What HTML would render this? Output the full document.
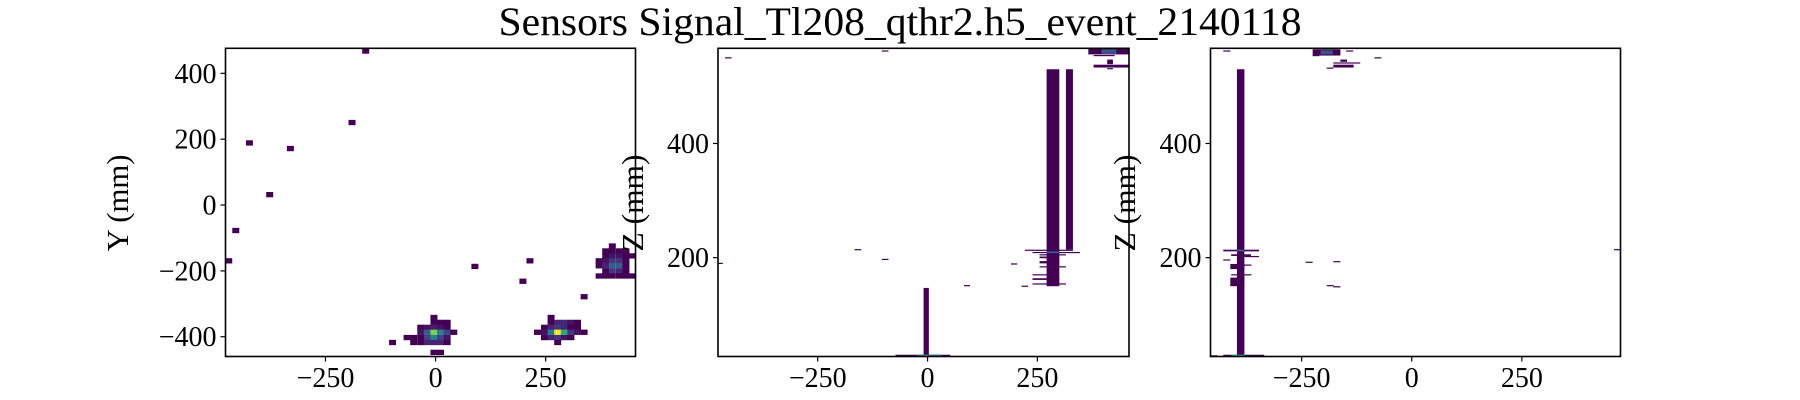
<!DOCTYPE html>
<html><head><meta charset="utf-8"><style>
html,body{margin:0;padding:0;background:#fff;}
svg{display:block;font-family:"Liberation Serif","DejaVu Serif",serif;}
</style></head><body>
<svg id="fig" width="1800" height="400" viewBox="0 0 1800 400" xmlns="http://www.w3.org/2000/svg">
<rect x="0" y="0" width="1800" height="400" fill="#fff"/>
<text x="900" y="35" font-size="40" text-anchor="middle" textLength="803" lengthAdjust="spacingAndGlyphs">Sensors Signal_Tl208_qthr2.h5_event_2140118</text>
</svg>
<script>
// Panel 1: X-Y histogram cells [x, y, value]
const p1Xticks = [-250, 0, 250];
const p1Yticks = [-400, -200, 0, 200, 400];
const p1Cells = [
 [-159,468,0],[-190,251,0],[-423,189,0],[-330,172,0],[-377,32,0],[-454,-77,0],[-470,-169,0],
 [89,-186,0],[214,-169,0],[198,-231,0],[337,-278,0],[-98,-417,0],
 // cluster A
 [-4,-341,0],
 [-4,-356,0],[11,-356,0],[26,-356,0],
 [-34,-371,0],[-19,-371,0.05],[-4,-371,0.08],[11,-371,0.05],[26,-371,0],
 [-34,-386,0.05],[-19,-386,0.3],[-4,-386,0.8],[11,-386,0.45],[26,-386,0.2],[41,-386,0],
 [-65,-402,0],[-50,-402,0],[-34,-402,0],[-19,-402,0.2],[-4,-402,0.45],[11,-402,0.2],[26,-402,0.05],
 [-50,-417,0],[-34,-417,0],[-19,-417,0.1],[-4,-417,0.1],[11,-417,0.1],[26,-417,0],
 [-4,-447,0],[11,-447,0],
 // cluster B
 [262,-341,0],
 [262,-356,0],[277,-356,0.1],[292,-356,0.1],[307,-356,0.05],[322,-356,0],
 [247,-371,0],[262,-371,0.1],[277,-371,0.15],[292,-371,0.1],[307,-371,0],[322,-371,0],
 [231,-386,0],[247,-386,0.05],[262,-386,0.4],[277,-386,1.0],[292,-386,0.6],[307,-386,0.15],[322,-386,0.05],[337,-386,0],
 [247,-402,0],[262,-402,0.1],[277,-402,0.15],[292,-402,0.05],[307,-402,0],
 [277,-417,0],
 // cluster C
 [401,-124,0],
 [386,-139,0],[401,-139,0],[417,-139,0],[432,-139,0],
 [386,-154,0],[401,-154,0.05],[417,-154,0.05],[432,-154,0],[447,-154,0],
 [371,-169,0],[386,-169,0.05],[401,-169,0.15],[417,-169,0.15],[432,-169,0],
 [371,-184,0],[386,-184,0.1],[401,-184,0.3],[417,-184,0.3],[432,-184,0],
 [386,-200,0],[401,-200,0.15],[417,-200,0.1],[432,-200,0],
 [371,-215,0],[386,-215,0],[401,-215,0],[417,-215,0],[432,-215,0],[447,-215,0]
];
// Panel 2: X-Z rects [x0, x1, z0, z1, value]
const p2Xticks = [-250, 0, 250];
const p2Zticks = [200, 400];
const p2Rects = [
 [-9,3,27,147,0],[-73,52,27,30,0],[-25,-8,27,30,0.4],[-8,3,27,30,0.65],[3,33,27,30,0.35],
 [271,300,150,530,0],[315,331,214,530,0],
 [222,331,212,214,0],[239,347,208,210,0],[271,300,208,211,0.3],[255,315,204,206,0],
 [255,300,199,202,0],[255,300,190,194,0],[255,315,183,185,0],[190,204,188,190,0],
 [239,280,169,171,0],[239,300,161,164,0],[239,315,153,155,0],[214,229,149,151,0],
 [83,97,150,152,0],[-166,-151,213,215,0],[-104,-89,196,198,0],[-104,-89,561,563,0],
 [-461,-446,549,551,0],[-477,-466,189,191,0],
 [366,458,556,566,0],[396,430,557,565,0.25],[378,426,553,555,0],[409,422,539,547,0],
 [378,458,533,538,0],[409,422,530,532,0]
];
// Panel 3: Y-Z rects [y0, y1, z0, z1, value]
const p3Xticks = [-250, 0, 250];
const p3Zticks = [200, 400];
const p3Rects = [
 [-397,-380,27,530,0],[-428,-335,27,30,0],[-410,-380,27,30,0.6],[-456,-441,27,29,0],
 [-428,-347,211,214,0],[-397,-380,211,214,0.35],[-410,-365,203,206,0],[-380,-347,201,203,0],
 [-428,-412,195,197,0],[-412,-380,180,189,0],[-380,-364,186,188,0],[-410,-364,169,171,0],
 [-412,-380,150,165,0],[-241,-225,191,193,0],[-178,-162,192,194,0],[-193,-177,150,152,0],
 [-178,-162,148,150,0],[459,476,213,215,0],
 [-428,-412,561,563,0],[-225,-162,554,565,0],[-207,-179,556,563,0.25],[-149,-133,561,563,0],
 [-225,-210,553,555,0],[-85,-69,549,551,0],[-162,-147,543,547,0],[-178,-117,540,542,0],
 [-178,-132,533,538,0],[-193,-178,531,533,0]
];

const NS = "http://www.w3.org/2000/svg";
const svg = document.getElementById('fig');
const TOP = 48.3, BOT = 356.5;
function viridis(t){
  const s=[[68,1,84],[72,40,120],[62,74,137],[49,104,142],[38,130,142],[31,158,137],[53,183,121],[110,206,88],[181,222,43],[253,231,37]];
  t=Math.max(0,Math.min(1,t))*(s.length-1);const i=Math.min(Math.floor(t),s.length-2),f=t-i;
  const c=s[i].map((v,k)=>Math.round(v+(s[i+1][k]-v)*f));return `rgb(${c[0]},${c[1]},${c[2]})`;
}
function mk(tag,attrs,parent){const e=document.createElementNS(NS,tag);for(const k in attrs)e.setAttribute(k,attrs[k]);(parent||svg).appendChild(e);return e;}
function panel(name,left,width,xmin,xmax,ymin,ymax,xticks,yticks,ylabel,labelX){
  const g=mk('g',{});
  
  
  const sx=v=>left+(v-xmin)/(xmax-xmin)*width;
  const sy=v=>BOT-(v-ymin)/(ymax-ymin)*(BOT-TOP);
  const marks=mk('g',{},g);
  
  
  const frame=mk('rect',{x:left,y:TOP,width:width,height:BOT-TOP,fill:'none',stroke:'#000','stroke-width':1.6},g);
  
  
  xticks.forEach(t=>{
    const x=sx(t);
    mk('line',{x1:x,x2:x,y1:BOT,y2:BOT+5,stroke:'#000','stroke-width':1.2},g);
    const tx=mk('text',{x:x,y:387,'font-size':28,'text-anchor':'middle'},g);
    tx.textContent=(t<0?'\u2212':'')+Math.abs(t);
    
    
  });
  yticks.forEach(t=>{
    const y=sy(t);
    mk('line',{x1:left-5,x2:left,y1:y,y2:y,stroke:'#000','stroke-width':1.2},g);
    const tx=mk('text',{x:left-9,y:y+9.5,'font-size':28,'text-anchor':'end'},g);
    tx.textContent=(t<0?'\u2212':'')+Math.abs(t);
    
    
  });
  const yl=mk('text',{x:0,y:0,'font-size':31,'text-anchor':'middle',transform:`translate(${labelX+11},203) rotate(-90)`,textLength:97,lengthAdjust:'spacingAndGlyphs'},g);
  yl.textContent=ylabel;
  
  
  return {sx,sy,marks};
}
// Panel 1
const P1=panel('xy-panel',225.5,410,-477,454,-460,476,p1Xticks,p1Yticks,'Y (mm)',117);
const bw=15.2;
p1Cells.forEach(c=>{
  const x0=P1.sx(c[0]-bw/2),x1=P1.sx(c[0]+bw/2),y0=P1.sy(c[1]+bw/2),y1=P1.sy(c[1]-bw/2);
  const r=mk('rect',{x:x0,y:y0,width:x1-x0+0.3,height:y1-y0+0.3,fill:viridis(c[2])},P1.marks);
  
  
});
function drawRects(P,list){
  list.forEach(c=>{
    const x0=P.sx(c[0]),x1=P.sx(c[1]),y0=P.sy(c[3]),y1=P.sy(c[2]);
    const r=mk('rect',{x:x0,y:y0,width:Math.max(1,x1-x0),height:Math.max(1.2,y1-y0),fill:viridis(c[4])},P.marks);
    
    
  });
}
const P2=panel('xz-panel',718,411,-477,458.6,26.9,566.7,p2Xticks,p2Zticks,'Z (mm)',632);
drawRects(P2,p2Rects);
const P3=panel('yz-panel',1210.5,410,-457,474,26.9,566.7,p3Xticks,p3Zticks,'Z (mm)',1124);
drawRects(P3,p3Rects);
</script>
</body></html>
